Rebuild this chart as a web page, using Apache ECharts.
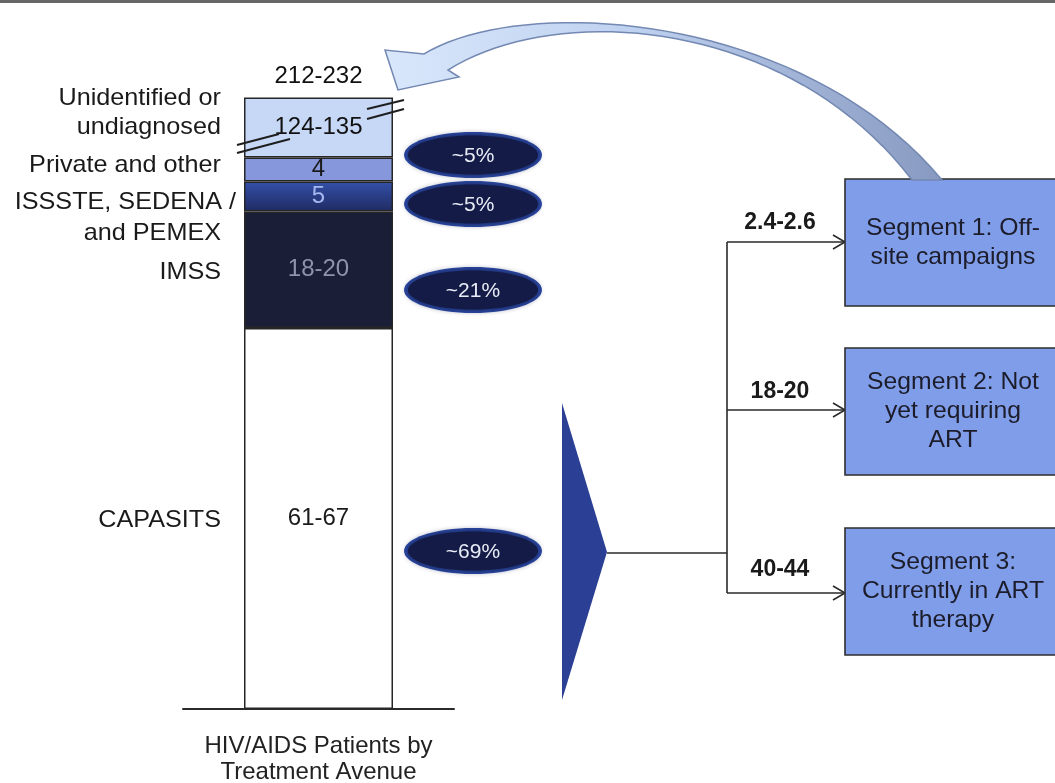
<!DOCTYPE html>
<html>
<head>
<meta charset="utf-8">
<script src="https://cdn.jsdelivr.net/npm/echarts@6/dist/echarts.min.js"></script>
<style>
html,body{margin:0;padding:0;background:#fff;}
#c{width:1055px;height:783px;}
</style>
</head>
<body>
<div id="c"></div>
<script>
// ---- data ----
const categoryNames = ['CAPASITS', 'IMSS', 'ISSSTE, SEDENA /\nand PEMEX', 'Private and other', 'Unidentified or\nundiagnosed'];
// drawn segment heights; Unidentified is shown truncated with an axis break
const segmentValues = [63.5, 19.4, 5, 4, 10];
const rangeLabels = ['61-67', '18-20', '5', '4', '124-135'];
const totalLabel = '212-232';
const shareLabels = ['~5%', '~5%', '~21%', '~69%'];
const segmentNames = ['Segment 1: Off-\nsite campaigns', 'Segment 2: Not\nyet requiring\nART', 'Segment 3:\nCurrently in ART\ntherapy'];
const segmentRanges = ['2.4-2.6', '18-20', '40-44'];
const axisTitle = 'HIV/AIDS Patients by\nTreatment Avenue';

const FONT = '"Liberation Sans", Arial, sans-serif';
const segColors = [
  '#ffffff',
  '#1b1e37',
  {type:'linear', x:0, y:0, x2:0, y2:1, colorStops:[{offset:0,color:'#3450a8'},{offset:1,color:'#1f2a62'}]},
  '#8797db',
  '#c6d8f6'
];
const labelColors = ['#1a1a1a', '#8f93ab', '#a6b8f0', '#1a1a1a', '#111111'];

const chart = echarts.init(document.getElementById('c'), null, {renderer:'canvas'});

const series = segmentValues.map((v, i) => ({
  name: categoryNames[i],
  type: 'bar',
  stack: 'total',
  barWidth: 149,
  data: [v],
  itemStyle: {color: segColors[i], borderColor: '#262626', borderWidth: 1.5},
  label: {
    show: true, position: 'inside', formatter: rangeLabels[i],
    fontFamily: FONT, fontSize: 24, color: labelColors[i]
  },
  emphasis: {disabled: true},
  silent: true
}));

chart.setOption({
  animation: false,
  backgroundColor: '#ffffff',
  grid: {left: 183, right: 601, top: 49, bottom: 74, containLabel: false, outerBoundsMode: 'none'},
  xAxis: {
    type: 'category', data: ['HIV/AIDS'],
    axisLine: {show: true, lineStyle: {color: '#2a2a2a', width: 2}},
    axisTick: {show: false}, axisLabel: {show: false},
    name: axisTitle, nameLocation: 'middle', nameGap: 24,
    nameTextStyle: {fontFamily: FONT, fontSize: 24, color: '#222', lineHeight: 26, verticalAlign: 'top'}
  },
  yAxis: {type: 'value', min: 0, max: 110, show: false},
  series: series
});

// ---- annotations ----
const g = [];
const Z = 20;
// top frame line
g.push({type:'rect', z:Z, shape:{x:0,y:0,width:1055,height:3}, style:{fill:'#666'}});

// total label above bar
const topPt = chart.convertToPixel({gridIndex:0}, [0, segmentValues.reduce((a,b)=>a+b,0)]);
g.push({type:'text', z:Z, x: topPt[0], y: topPt[1] - 21, style:{text: totalLabel, font: '24px ' + FONT, fill:'#111', align:'center', verticalAlign:'middle'}});

// left category labels
const leftLabels = [
  {t:'Unidentified or', x:221, y:98},
  {t:'undiagnosed', x:221, y:127},
  {t:'Private and other', x:221, y:165},
  {t:'ISSSTE, SEDENA /', x:236, y:202},
  {t:'and PEMEX', x:221, y:233},
  {t:'IMSS', x:221, y:272},
  {t:'CAPASITS', x:221, y:520}
];
leftLabels.forEach(l => g.push({type:'text', z:Z, x:l.x, y:l.y, scaleX:1.05, style:{text:l.t, font:'24px ' + FONT, fill:'#1a1a1a', align:'right', verticalAlign:'middle'}}));

// axis-break marks
[[367,109,404,100],[367,119,404,109],[237,145,279,134],[237,153,290,139]].forEach(s =>
  g.push({type:'line', z:Z, shape:{x1:s[0],y1:s[1],x2:s[2],y2:s[3]}, style:{stroke:'#1e1e1e', lineWidth:2}}));

// share pills
const pillY = [155, 204, 290, 551];
shareLabels.forEach((t, i) => {
  g.push({type:'ellipse', z:Z, shape:{cx:473, cy:pillY[i], rx:69, ry:23}, style:{fill:'#2b4aa9'}});
  g.push({type:'ellipse', z:Z, shape:{cx:473, cy:pillY[i], rx:65, ry:19.5}, style:{fill:'#131b46', shadowBlur:6, shadowColor:'#131b46'}});
  g.push({type:'text', z:Z, x:473, y:pillY[i]+1, style:{text:t, font:'21px ' + FONT, fill:'#e8ecf6', align:'center', verticalAlign:'middle'}});
});

// triangle connector
g.push({type:'polygon', z:Z, shape:{points:[[562,403],[607,552],[562,700]]}, style:{fill:'#2b3f95'}});
const LS = {stroke:'#2a2a2a', lineWidth:1.6, fill:null};
g.push({type:'polyline', z:Z, shape:{points:[[607,553],[727,553]]}, style:LS});
g.push({type:'polyline', z:Z, shape:{points:[[727,242],[727,593]]}, style:LS});
const arrowY = [242, 410, 593];
arrowY.forEach(y => {
  g.push({type:'polyline', z:Z, shape:{points:[[727,y],[845,y]]}, style:LS});
  g.push({type:'polyline', z:Z, shape:{points:[[833,y-7],[845,y],[833,y+7]]}, style:LS});
});
const rangeY = [223, 392, 570];
segmentRanges.forEach((t, i) => g.push({type:'text', z:Z, x:780, y:rangeY[i], style:{text:t, font:'bold 23px ' + FONT, fill:'#1a1a1a', align:'center', verticalAlign:'middle'}}));

// segment boxes
const boxes = [[179,306],[348,475],[528,655]];
boxes.forEach((b, i) => {
  g.push({type:'rect', z:Z, shape:{x:845, y:b[0], width:220, height:b[1]-b[0]}, style:{fill:'#7f9de8', stroke:'#2e2e2e', lineWidth:1.6}});
  g.push({type:'text', z:Z, x:953, y:(b[0]+b[1])/2, scaleX:1.03, style:{text:segmentNames[i], font:'24px ' + FONT, fill:'#1c1c2a', align:'center', verticalAlign:'middle', lineHeight:29}});
});

// curved feedback arrow (outline sampled from cubic curves)
function bez(p0, p1, p2, p3, n) {
  const pts = [];
  for (let k = 0; k <= n; k++) {
    const t = k / n, u = 1 - t;
    pts.push([
      u*u*u*p0[0] + 3*u*u*t*p1[0] + 3*u*t*t*p2[0] + t*t*t*p3[0],
      u*u*u*p0[1] + 3*u*u*t*p1[1] + 3*u*t*t*p2[1] + t*t*t*p3[1]
    ]);
  }
  return pts;
}
const outer = bez([424,54],[520,-5],[800,10],[942,180], 40);
const inner = bez([912,180],[790,20],[560,0],[448,70], 40);
const arrowPts = [[398,90],[385,50]].concat(outer, inner, [[459,77]]);
g.push({type:'polygon', z:Z, shape:{points: arrowPts},
  style:{fill:{type:'linear', x:0, y:0, x2:1, y2:0, colorStops:[{offset:0,color:'#d9e7fb'},{offset:0.45,color:'#bed1ef'},{offset:1,color:'#8799c0'}]},
    stroke:'#7388b2', lineWidth:1.5}});

chart.setOption({graphic: {elements: g}});
</script>
</body>
</html>
